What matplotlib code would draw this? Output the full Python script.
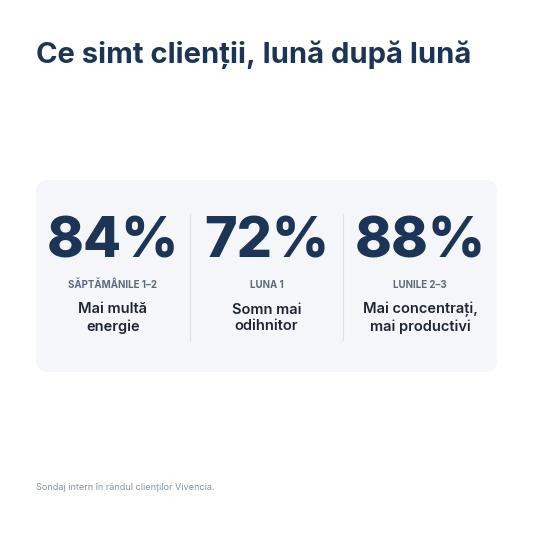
import matplotlib.pyplot as plt
from matplotlib.patches import FancyBboxPatch

W, H = 533, 533
NAVY = '#1c3557'
title = 'Ce simt clienții, lună după lună'
values = [84, 72, 88]
periods = ['SĂPTĂMÂNILE 1–2', 'LUNA 1', 'LUNILE 2–3']
descs = ['Mai multă\nenergie', 'Somn mai\nodihnitor', 'Mai concentrați,\nmai productivi']
footer = 'Sondaj intern în rândul clienților Vivencia.'

fig = plt.figure(figsize=(W / 100, H / 100), dpi=100)
ax = fig.add_axes([0, 0, 1, 1])
ax.set_xlim(0, W)
ax.set_ylim(H, 0)
ax.axis('off')

ax.text(36, 55, title, fontsize=21, fontweight='bold', color=NAVY,
        family='Inter', va='center', ha='left')

card = FancyBboxPatch((36, 180), 461, 192, boxstyle='round,pad=0,rounding_size=12',
                      fc='#f4f6f9', ec='none')
ax.add_patch(card)

col_w = 461 / 3
for i, (v, p, d) in enumerate(zip(values, periods, descs)):
    cx = 36 + col_w * (i + 0.5)
    ax.text(cx, 242, f'{v}%', fontsize=40, fontweight='heavy', color=NAVY,
            family='Inter', ha='center', va='center')
    ax.text(cx, 285, ' '.join(p) if False else p, fontsize=7, fontweight='bold',
            color='#5d6b7e', family='Inter', ha='center', va='center')
    ax.text(cx, 318, d, fontsize=10.5, fontweight='semibold', color='#1e2633',
            family='Inter', ha='center', va='center', linespacing=1.25)
    if i > 0:
        x = 36 + col_w * i
        ax.plot([x, x], [214, 340], color='#dfe3e8', lw=0.8)

ax.text(36, 488, footer, fontsize=6.5, color='#8592a3', family='Inter',
        ha='left', va='center')

fig.savefig('out.png', dpi=100)
